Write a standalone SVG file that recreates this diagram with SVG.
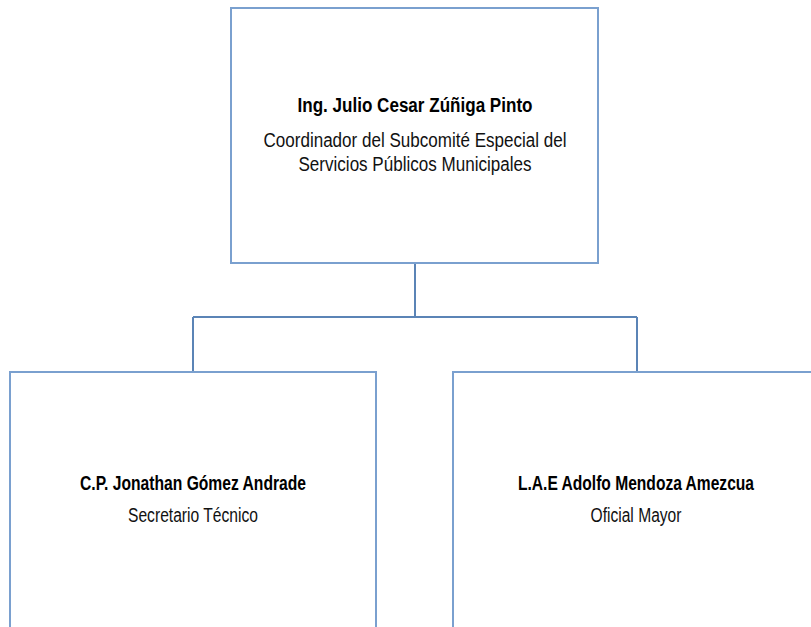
<svg xmlns="http://www.w3.org/2000/svg" width="811" height="627" viewBox="0 0 811 627">
<style>
.box{fill:#ffffff;stroke:#7aa0cf;stroke-width:2}
.conn{fill:none;stroke:#5b84b6;stroke-width:2}
.b{font-family:"Liberation Sans",Arial,sans-serif;font-weight:bold;font-size:20px;fill:#000;text-anchor:middle}
.r{font-family:"Liberation Sans",Arial,sans-serif;font-size:20px;fill:#111;text-anchor:middle}
</style>
<rect width="811" height="627" fill="#ffffff"/>
<g id="connectors">
<path class="conn" d="M415,264 V317 M193,317 H637 M193,317 V372 M637,317 V372"/>
</g>
<g id="coordinador">
<rect class="box" x="231" y="8" width="367" height="255"/>
<text class="b" x="415" y="112" textLength="235" lengthAdjust="spacingAndGlyphs">Ing. Julio Cesar Zúñiga Pinto</text>
<text class="r" x="415" y="147" textLength="303" lengthAdjust="spacingAndGlyphs">Coordinador del Subcomité Especial del</text>
<text class="r" x="415" y="171" textLength="233" lengthAdjust="spacingAndGlyphs">Servicios Públicos Municipales</text>
</g>
<g id="secretario">
<rect class="box" x="10" y="372" width="366" height="270"/>
<text class="b" x="193" y="490" textLength="226" lengthAdjust="spacingAndGlyphs">C.P. Jonathan Gómez Andrade</text>
<text class="r" x="193" y="522" textLength="130" lengthAdjust="spacingAndGlyphs">Secretario Técnico</text>
</g>
<g id="oficial">
<rect class="box" x="453" y="372" width="368" height="270"/>
<text class="b" x="636" y="490" textLength="236" lengthAdjust="spacingAndGlyphs">L.A.E Adolfo  Mendoza Amezcua</text>
<text class="r" x="636" y="522" textLength="91" lengthAdjust="spacingAndGlyphs">Oficial Mayor</text>
</g>
</svg>
